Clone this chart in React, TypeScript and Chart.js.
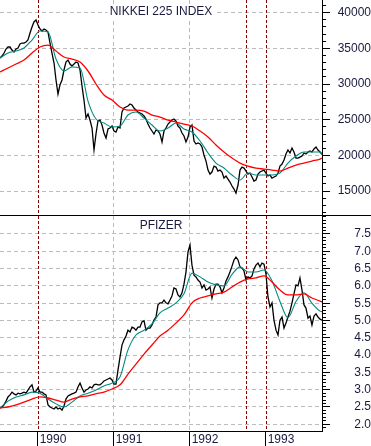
import React, { useEffect, useRef } from "react";
import { Chart, registerables } from "chart.js";

Chart.register(...registerables);

// ---------------- DATA ----------------
// Dates of the price samples (decimal years)
const weekDates: number[] = [
  1989.504, 1989.530, 1989.557, 1989.583, 1989.609, 1989.636, 1989.662, 1989.688, 1989.715, 1989.741,
  1989.767, 1989.793, 1989.820, 1989.846, 1989.872, 1989.899, 1989.925, 1989.951, 1989.978,
  1990.004, 1990.030, 1990.057, 1990.083, 1990.109, 1990.136, 1990.162, 1990.188, 1990.215, 1990.241,
  1990.267, 1990.293, 1990.320, 1990.346, 1990.372, 1990.399, 1990.425, 1990.451, 1990.478, 1990.504,
  1990.530, 1990.557, 1990.583, 1990.609, 1990.636, 1990.662, 1990.688, 1990.715, 1990.741, 1990.767,
  1990.793, 1990.820, 1990.846, 1990.872, 1990.899, 1990.925, 1990.951, 1990.978,
  1991.004, 1991.030, 1991.057, 1991.083, 1991.109, 1991.136, 1991.162, 1991.188, 1991.215, 1991.241,
  1991.267, 1991.293, 1991.320, 1991.346, 1991.372, 1991.399, 1991.425, 1991.451, 1991.478, 1991.504,
  1991.530, 1991.557, 1991.583, 1991.609, 1991.636, 1991.662, 1991.688, 1991.715, 1991.741, 1991.767,
  1991.793, 1991.820, 1991.846, 1991.872, 1991.899, 1991.925, 1991.951, 1991.978,
  1992.004, 1992.030, 1992.057, 1992.083, 1992.109, 1992.136, 1992.162, 1992.188, 1992.215, 1992.241,
  1992.267, 1992.293, 1992.320, 1992.346, 1992.372, 1992.399, 1992.425, 1992.451, 1992.478, 1992.504,
  1992.530, 1992.557, 1992.583, 1992.609, 1992.636, 1992.662, 1992.688, 1992.715, 1992.741, 1992.767,
  1992.793, 1992.820, 1992.846, 1992.872, 1992.899, 1992.925, 1992.951, 1992.978,
  1993.004, 1993.030, 1993.057, 1993.083, 1993.109, 1993.136, 1993.162, 1993.188, 1993.215, 1993.241,
  1993.267, 1993.293, 1993.320, 1993.346, 1993.372, 1993.399, 1993.425, 1993.451, 1993.478, 1993.504,
  1993.530, 1993.557, 1993.583, 1993.609, 1993.636, 1993.662, 1993.688, 1993.715, 1993.741,
];

const nikkeiClose: number[] = [
  33650, 33930, 34350, 34910, 35190, 35190, 34770, 34490, 34910, 35050,
  35610, 35750, 35750, 35890, 36170, 37150, 38000, 38700, 38980, 38280,
  37720, 37430, 37720, 37570, 37290, 35750, 34350, 32950, 30570, 28610,
  29870, 30570, 31970, 33090, 33370, 32810, 32530, 32810, 33090, 32950,
  31970, 29730, 27760, 25240, 25800, 24960, 23840, 20760, 23000, 24820,
  24960, 24260, 23140, 22440, 23700, 23840, 24120, 23420, 23280, 23980,
  23840, 26080, 26640, 26780, 26920, 27200, 27060, 26640, 26360, 26080,
  25940, 25800, 25520, 25100, 24400, 23840, 23420, 23000, 23560, 23420,
  23000, 21880, 23420, 23840, 24400, 24680, 24960, 25100, 24820, 24120,
  23840, 23140, 22720, 21880, 22580, 23980, 24260, 22020, 21600, 21740,
  21600, 21180, 20060, 19210, 17950, 17390, 17670, 18510, 18370, 17810,
  17950, 17670, 16830, 17110, 16690, 16270, 15710, 15290, 14730, 15850,
  17950, 18370, 18230, 17810, 17390, 17530, 16970, 16410, 16550, 17390,
  17670, 17810, 17950, 17530, 17110, 17250, 16830, 16970, 17110, 17530,
  18510, 18790, 19350, 20190, 20760, 20340, 21040, 20480, 19630, 19630,
  19770, 19910, 20340, 20190, 20480, 20620, 20480, 20900, 21180, 20760,
  20480, 20190,
];

const pfizerClose: number[] = [
  2.47, 2.50, 2.56, 2.67, 2.79, 2.85, 2.93, 2.88, 2.85, 2.90,
  2.88, 2.90, 2.93, 2.90, 2.99, 3.08, 3.14, 2.93, 2.96, 3.05,
  2.93, 2.93, 2.88, 2.85, 2.56, 2.50, 2.47, 2.44, 2.50, 2.44,
  2.47, 2.41, 2.53, 2.73, 2.82, 2.85, 2.88, 2.90, 2.93, 3.08,
  3.19, 3.05, 2.93, 2.99, 3.02, 3.08, 3.05, 3.14, 3.16, 3.14,
  3.14, 3.19, 3.25, 3.28, 3.31, 3.34, 3.28, 3.16, 3.16, 3.57,
  3.94, 4.29, 4.44, 4.55, 4.72, 4.67, 4.81, 4.78, 4.72, 4.81,
  4.81, 4.96, 4.99, 4.72, 4.78, 4.78, 4.87, 5.01, 5.10, 5.45,
  5.51, 5.51, 5.59, 5.51, 5.48, 5.59, 5.71, 5.94, 5.91, 5.74,
  5.68, 5.80, 6.05, 6.40, 6.98, 7.18, 6.60, 6.31, 6.26, 6.17,
  6.11, 5.94, 6.03, 5.88, 5.91, 5.97, 5.65, 5.91, 6.05, 6.05,
  5.97, 5.80, 5.94, 6.14, 6.26, 6.40, 6.57, 6.75, 6.83, 6.75,
  6.55, 6.52, 6.43, 6.17, 6.26, 6.23, 6.29, 6.49, 6.60, 6.66,
  6.55, 6.66, 6.63, 6.34, 5.68, 5.39, 5.51, 5.01, 4.72, 4.58,
  5.01, 5.10, 4.78, 4.93, 5.10, 5.27, 5.51, 5.77, 6.03, 6.00,
  6.23, 5.88, 5.45, 5.36, 5.07, 5.13, 4.87, 5.13, 5.19, 5.10,
  5.04, 5.01,
];

// Dates of the moving-average samples (decimal years)
const maDates: number[] = [
  1989.504, 1989.609, 1989.715, 1989.820, 1989.925, 1990.030, 1990.136, 1990.241, 1990.346, 1990.451,
  1990.557, 1990.662, 1990.767, 1990.872, 1990.978, 1991.083, 1991.188, 1991.293, 1991.399, 1991.504,
  1991.609, 1991.715, 1991.820, 1991.925, 1992.030, 1992.136, 1992.241, 1992.346, 1992.451, 1992.557,
  1992.662, 1992.767, 1992.872, 1992.978, 1993.083, 1993.188, 1993.293, 1993.399, 1993.504, 1993.609,
  1993.715, 1993.741,
];

const nikkeiMA13: number[] = [
  33650, 34350, 34630, 35050, 36170, 37430, 37290, 33510, 31830, 32390,
  32250, 27620, 25100, 24540, 23980, 24120, 25660, 26080, 25240, 24260,
  23420, 23840, 24540, 23700, 23280, 22020, 20340, 18930, 18230, 17250,
  16550, 17530, 17250, 17250, 17250, 17530, 18930, 19910, 20480, 20480,
  20480, 20060,
];

const nikkeiMA40: number[] = [
  31690, 32250, 32810, 33370, 34350, 35190, 35470, 34630, 33790, 33510,
  33090, 31830, 30010, 28460, 27760, 26780, 26360, 26360, 26220, 25660,
  25380, 24960, 24680, 24400, 24120, 23420, 22580, 21460, 20480, 19630,
  18930, 18510, 18230, 18090, 17950, 17810, 18230, 18650, 18930, 19210,
  19490, 19630,
];

const pfizerMA13: number[] = [
  2.47, 2.67, 2.79, 2.85, 2.93, 2.90, 2.73, 2.59, 2.50, 2.64,
  2.82, 2.90, 2.99, 3.11, 3.19, 3.37, 4.15, 4.58, 4.72, 4.90,
  5.22, 5.36, 5.51, 5.77, 6.37, 6.26, 6.11, 6.03, 6.00, 6.33,
  6.55, 6.40, 6.40, 6.46, 6.15, 5.55, 5.08, 5.55, 5.80, 5.50,
  5.27, 5.25,
];

const pfizerMA40: number[] = [
  2.47, 2.50, 2.56, 2.64, 2.73, 2.79, 2.76, 2.70, 2.64, 2.73,
  2.79, 2.82, 2.88, 2.93, 3.02, 3.14, 3.45, 3.74, 4.03, 4.29,
  4.55, 4.72, 4.93, 5.16, 5.51, 5.65, 5.71, 5.77, 5.82, 5.97,
  6.11, 6.20, 6.23, 6.29, 6.11, 5.88, 5.74, 5.74, 5.77, 5.65,
  5.56, 5.54,
];

const yearTicks: number[] = [1990, 1991, 1992, 1993];
const eventLines: number[] = [1990.0, 1992.746, 1993.0];
const nikkeiTicks: number[] = [15000, 20000, 25000, 30000, 35000, 40000];
const pfizerTicks: number[] = [2.0, 2.5, 3.0, 3.5, 4.0, 4.5, 5.0, 5.5, 6.0, 6.5, 7.0, 7.5];

// ---------------- STYLE ----------------
const X_MIN = 1989.504;
const X_MAX = 1993.741;
const FONT = 'Arial, "Liberation Sans", Helvetica, sans-serif';
const GRID = "#bcbcbc";
const EVENT = "#8b0000";
const TEXT = "#1a1a40";
const DASH = [4, 3];
const AXIS_W = 49;

const isEvent = (v: number) => eventLines.some((e) => Math.abs(e - v) < 1e-6);
const toPoints = (xs: number[], ys: number[]) => xs.map((x, i) => ({ x, y: ys[i] }));

const eventLinePlugin = {
  id: "eventLines",
  beforeDatasetsDraw(chart: any) {
    const { ctx, chartArea, scales } = chart;
    ctx.save();
    ctx.strokeStyle = EVENT;
    ctx.lineWidth = 1;
    ctx.setLineDash([3, 2]);
    for (const v of eventLines) {
      const x = Math.round(scales.x.getPixelForValue(v)) + 0.5;
      ctx.beginPath();
      ctx.moveTo(x, chartArea.top);
      ctx.lineTo(x, chartArea.bottom);
      ctx.stroke();
    }
    ctx.restore();
  },
};

const titlePlugin = {
  id: "panelTitle",
  beforeDatasetsDraw(chart: any, _args: any, opts: any) {
    const { ctx, chartArea } = chart;
    ctx.save();
    ctx.font = `12px ${FONT}`;
    const cx = (chartArea.left + chartArea.right) / 2;
    const y = chartArea.top + opts.offset;
    const w = ctx.measureText(opts.text).width;
    ctx.fillStyle = "#ffffff";
    ctx.fillRect(cx - w / 2 - 2, y - 10, w + 4, 13);
    ctx.fillStyle = TEXT;
    ctx.textAlign = "center";
    ctx.textBaseline = "alphabetic";
    ctx.fillText(opts.text, cx, y);
    ctx.restore();
  },
};

type Panel = {
  title: string;
  titleOffset: number;
  close: number[];
  ma13: number[];
  ma40: number[];
  yMin: number;
  yMax: number;
  yTicks: number[];
  minorStep: number;
  fmt: (v: number) => string;
  labelPad: number;
  showX: boolean;
};

function makeConfig(p: Panel): any {
  const xScale: any = {
    type: "linear",
    min: X_MIN,
    max: X_MAX,
    afterBuildTicks: (s: any) => {
      s.ticks = yearTicks.map((v) => ({ value: v }));
    },
    grid: {
      color: (c: any) => (c.tick && isEvent(c.tick.value) ? "rgba(0,0,0,0)" : GRID),
      lineWidth: 1,
      drawTicks: p.showX,
      tickLength: 15,
      tickColor: "#000",
      tickWidth: 1,
    },
    border: { display: p.showX, color: "#000", width: 1, dash: DASH },
    ticks: {
      display: p.showX,
      align: "start",
      labelOffset: 2,
      padding: -14,
      autoSkip: false,
      maxRotation: 0,
      color: TEXT,
      font: { family: FONT, size: 12 },
      callback: (v: number) => String(v),
    },
    afterFit: (s: any) => {
      s.height = p.showX ? 15 : 0;
      s.paddingLeft = 0;
      s.paddingRight = 0;
    },
  };

  return {
    type: "line",
    data: {
      datasets: [
        {
          label: p.title + " 40-week average",
          data: toPoints(maDates, p.ma40),
          borderColor: "#ff0000",
          borderWidth: 1.3,
          pointRadius: 0,
          cubicInterpolationMode: "monotone",
          fill: false,
          xAxisID: "x",
          yAxisID: "y",
        },
        {
          label: p.title + " 13-week average",
          data: toPoints(maDates, p.ma13),
          borderColor: "#008a80",
          borderWidth: 1.1,
          pointRadius: 0,
          cubicInterpolationMode: "monotone",
          fill: false,
          xAxisID: "x",
          yAxisID: "y",
        },
        {
          label: p.title,
          data: toPoints(weekDates, p.close),
          borderColor: "#000000",
          borderWidth: 1.3,
          pointRadius: 0,
          tension: 0,
          fill: false,
          xAxisID: "x",
          yAxisID: "y",
        },
      ],
    },
    options: {
      animation: false,
      responsive: false,
      devicePixelRatio: 1,
      events: [],
      layout: { padding: 0 },
      plugins: {
        legend: { display: false },
        tooltip: { enabled: false },
        panelTitle: { text: p.title, offset: p.titleOffset },
      },
      scales: {
        x: xScale,
        yMinor: {
          type: "linear",
          position: "right",
          weight: 0,
          min: p.yMin,
          max: p.yMax,
          afterBuildTicks: (s: any) => {
            const out: any[] = [];
            const start = Math.ceil(p.yMin / p.minorStep);
            const end = Math.floor(p.yMax / p.minorStep);
            for (let i = start; i <= end; i++) out.push({ value: +(i * p.minorStep).toFixed(4) });
            s.ticks = out;
          },
          ticks: { display: false },
          grid: { drawOnChartArea: false, drawTicks: true, tickLength: 4, tickColor: "#000", tickWidth: 1 },
          border: { display: false },
          afterFit: (s: any) => {
            s.width = 0;
            s.paddingTop = 0;
            s.paddingBottom = 0;
          },
        },
        y: {
          type: "linear",
          position: "right",
          weight: 1,
          min: p.yMin,
          max: p.yMax,
          afterBuildTicks: (s: any) => {
            s.ticks = p.yTicks.map((v) => ({ value: v }));
          },
          ticks: {
            callback: (v: number) => p.fmt(v),
            color: TEXT,
            font: { family: FONT, size: 12 },
            crossAlign: "far",
            padding: p.labelPad,
            autoSkip: false,
          },
          grid: { color: GRID, lineWidth: 1, drawTicks: true, tickLength: 8, tickColor: "#000", tickWidth: 1 },
          border: { display: true, color: "#000", width: 1, dash: DASH },
          afterFit: (s: any) => {
            s.width = AXIS_W;
            s.paddingTop = 0;
            s.paddingBottom = 0;
          },
        },
      },
    },
    plugins: [eventLinePlugin, titlePlugin],
  };
}

export default function App() {
  const topRef = useRef<HTMLCanvasElement | null>(null);
  const botRef = useRef<HTMLCanvasElement | null>(null);

  useEffect(() => {
    Chart.defaults.font.family = FONT;
    const top = new Chart(
      topRef.current as HTMLCanvasElement,
      makeConfig({
        title: "NIKKEI 225 INDEX",
        titleOffset: 15,
        close: nikkeiClose,
        ma13: nikkeiMA13,
        ma40: nikkeiMA40,
        yMin: 11650,
        yMax: 41780,
        yTicks: nikkeiTicks,
        minorStep: 1000,
        fmt: (v) => String(v),
        labelPad: 3.6,
        showX: false,
      })
    );
    const bot = new Chart(
      botRef.current as HTMLCanvasElement,
      makeConfig({
        title: "PFIZER",
        titleOffset: 12.5,
        close: pfizerClose,
        ma13: pfizerMA13,
        ma40: pfizerMA40,
        yMin: 1.806,
        yMax: 8.02,
        yTicks: pfizerTicks,
        minorStep: 0.1,
        fmt: (v) => v.toFixed(1),
        labelPad: 20.3,
        showX: true,
      })
    );
    return () => {
      top.destroy();
      bot.destroy();
    };
  }, []);

  return (
    <div style={{ position: "absolute", left: 0, top: 0, width: 371, height: 446, background: "#ffffff" }}>
      <canvas ref={topRef} width={371} height={215} style={{ display: "block", width: 371, height: 215 }} />
      <div style={{ width: 371, height: 1, background: "#000000" }} />
      <canvas ref={botRef} width={371} height={230} style={{ display: "block", width: 371, height: 230 }} />
    </div>
  );
}
